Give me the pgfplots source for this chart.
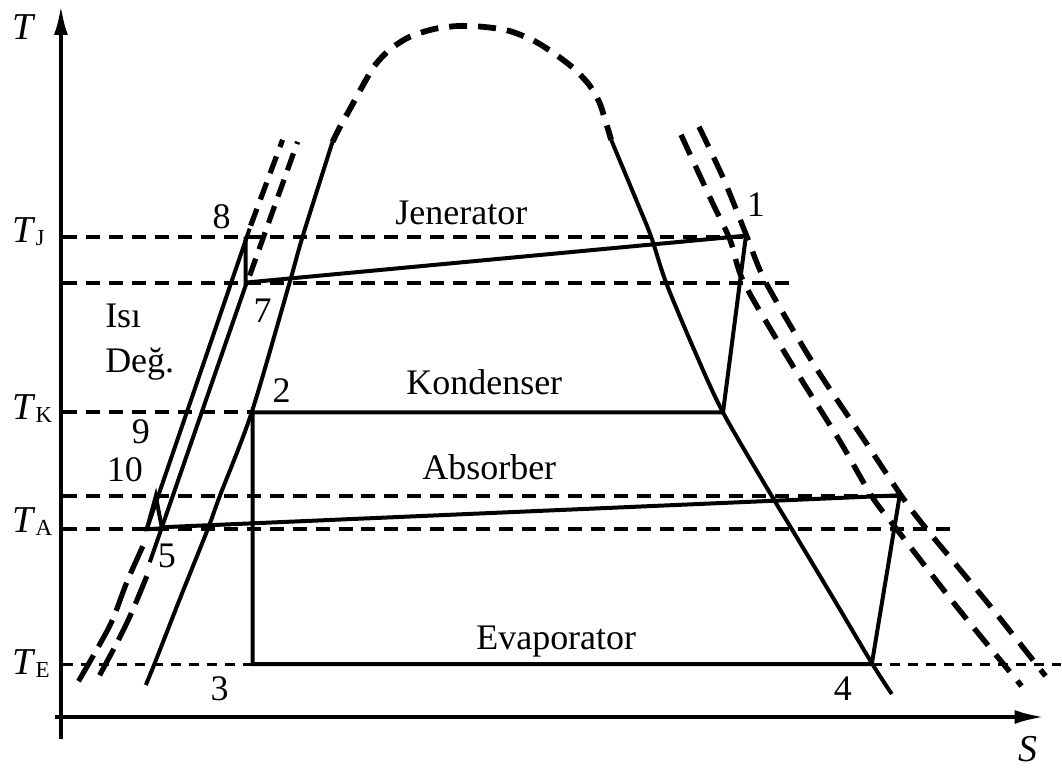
\documentclass[border=0pt]{standalone}
\usepackage{fontspec}
\setmainfont{Liberation Serif}
\usepackage{pgfplots}
\pgfplotsset{compat=1.18}
\usetikzlibrary{arrows.meta}

\newcommand{\lbl}{\fontsize{18}{21}\selectfont}
\newcommand{\Tsym}[1]{\textit{T}\raisebox{-1.5pt}{\fontsize{11.5}{13}\selectfont #1}}

\begin{document}
\begin{tikzpicture}
\begin{axis}[
  width=531pt, height=384.5pt, scale only axis,
  xmin=0, xmax=1062, ymin=0, ymax=769, y dir=reverse,
  axis lines=none, clip=false,
  solidline/.style={black, line width=2pt},
  hdash/.style={black, line width=2pt, dash pattern=on 7pt off 4.5pt},
  thindash/.style={black, line width=1.5pt, dash pattern=on 5pt off 4pt},
]
\path (rel axis cs:0,0) rectangle (rel axis cs:1,1);

% axes
\addplot[black, line width=2pt, -{Latex[length=15pt,width=7pt]}] coordinates {(61,740) (61,5)};
\addplot[black, line width=2pt, -{Latex[length=15pt,width=7pt]}] coordinates {(55,718) (1046,718)};

% temperature levels
\addplot[hdash] coordinates {(63,237) (747,237)};
\addplot[hdash] coordinates {(63,283) (798,283)};
\addplot[hdash] coordinates {(63,413) (253,413)};
\addplot[hdash] coordinates {(63,497) (902,497)};
\addplot[hdash] coordinates {(63,530) (958,530)};
\addplot[thindash] coordinates {(63,665) (1062,665)};

% saturation dome of the refrigerant
\addplot[solidline, smooth] coordinates {(146,686) (155,664) (180,600) (208,530) (220,497) (252,413) (290,283) (303,237) (333,142)};
\addplot[black, line width=2.9pt, smooth, dash pattern=on 9pt off 5.5pt] coordinates {(333,142) (340,128) (350,110) (362,88) (375,66) (390,50) (410,37) (435,29) (460,26) (485,27) (510,31) (535,41) (557,55) (575,69) (590,85) (600,102) (606,120) (612,140)};
\addplot[solidline, smooth] coordinates {(612,140) (637,200) (652,237) (667,283) (695,350) (724,413) (773,497) (793,530) (835,600) (873,664) (893,695)};

% solution lines (left)
\addplot[solidline] coordinates {(147,530) (250,229)};
\addplot[solidline] coordinates {(150,563) (247,283)};
\addplot[black, line width=2.6pt, dash pattern=on 9pt off 5pt] coordinates {(251,226) (283,140)};
\addplot[black, line width=2.6pt, dash pattern=on 9pt off 5pt] coordinates {(250,276) (298,142)};
\addplot[black, line width=2.6pt, smooth, dash pattern=on 15pt off 5pt] coordinates {(143,547) (127,583) (113,620) (100,645) (77,685)};
\addplot[black, line width=2.6pt, smooth, dash pattern=on 15pt off 5pt] coordinates {(147,577) (132,613) (118,642) (95,685)};

% solution vapour lines (right)
\addplot[black, line width=2.7pt, smooth, dash pattern=on 11pt off 6pt] coordinates {(682,135) (712,200) (731,240) (745,283) (790,360) (840,440) (873,497) (898,530) (960,610) (1023,687)};
\addplot[black, line width=2.7pt, smooth, dash pattern=on 11pt off 6pt] coordinates {(700,127) (725,180) (748,237) (767,283) (815,365) (865,440) (903,497) (928,530) (990,605) (1047,677)};

% cycle
\addplot[solidline] coordinates {(246,237) (246,283) (747,236) (724,413)};
\addplot[solidline] coordinates {(724,413) (253,413) (253,665) (873,665) (901,496) (162,528) (156,497) (147,530) (163,529)};

% labels
\node[font=\fontsize{19}{22}\selectfont, anchor=base west, inner sep=0] at (axis cs:12,40) {\textit{T}};
\node[font=\fontsize{19}{22}\selectfont, anchor=base west, inner sep=0] at (axis cs:1020,763) {\textit{S}};
\node[font=\fontsize{19}{22}\selectfont, anchor=base west, inner sep=0] at (axis cs:12,243) {\Tsym{J}};
\node[font=\fontsize{19}{22}\selectfont, anchor=base west, inner sep=0] at (axis cs:12,420) {\Tsym{K}};
\node[font=\fontsize{19}{22}\selectfont, anchor=base west, inner sep=0] at (axis cs:12,533) {\Tsym{A}};
\node[font=\fontsize{19}{22}\selectfont, anchor=base west, inner sep=0] at (axis cs:12,675) {\Tsym{E}};

\node[font=\lbl, anchor=base, inner sep=0] at (axis cs:462,225) {Jenerator};
\node[font=\lbl, anchor=base, inner sep=0] at (axis cs:485,395) {Kondenser};
\node[font=\lbl, anchor=base, inner sep=0] at (axis cs:490,480) {Absorber};
\node[font=\lbl, anchor=base, inner sep=0] at (axis cs:557,650) {Evaporator};
\node[font=\lbl, anchor=base west, inner sep=0] at (axis cs:105,328) {Isı};
\node[font=\lbl, anchor=base west, inner sep=0] at (axis cs:105,373) {Değ.};

\node[font=\lbl, inner sep=0] at (axis cs:757,205) {1};
\node[font=\lbl, inner sep=0] at (axis cs:282,391) {2};
\node[font=\lbl, inner sep=0] at (axis cs:220,690) {3};
\node[font=\lbl, inner sep=0] at (axis cs:844,690) {4};
\node[font=\lbl, inner sep=0] at (axis cs:167,557) {5};
\node[font=\lbl, inner sep=0] at (axis cs:263,311) {7};
\node[font=\lbl, inner sep=0] at (axis cs:222,217) {8};
\node[font=\lbl, inner sep=0] at (axis cs:141,432) {9};
\node[font=\lbl, inner sep=0] at (axis cs:125,470) {10};
\end{axis}
\end{tikzpicture}
\end{document}
